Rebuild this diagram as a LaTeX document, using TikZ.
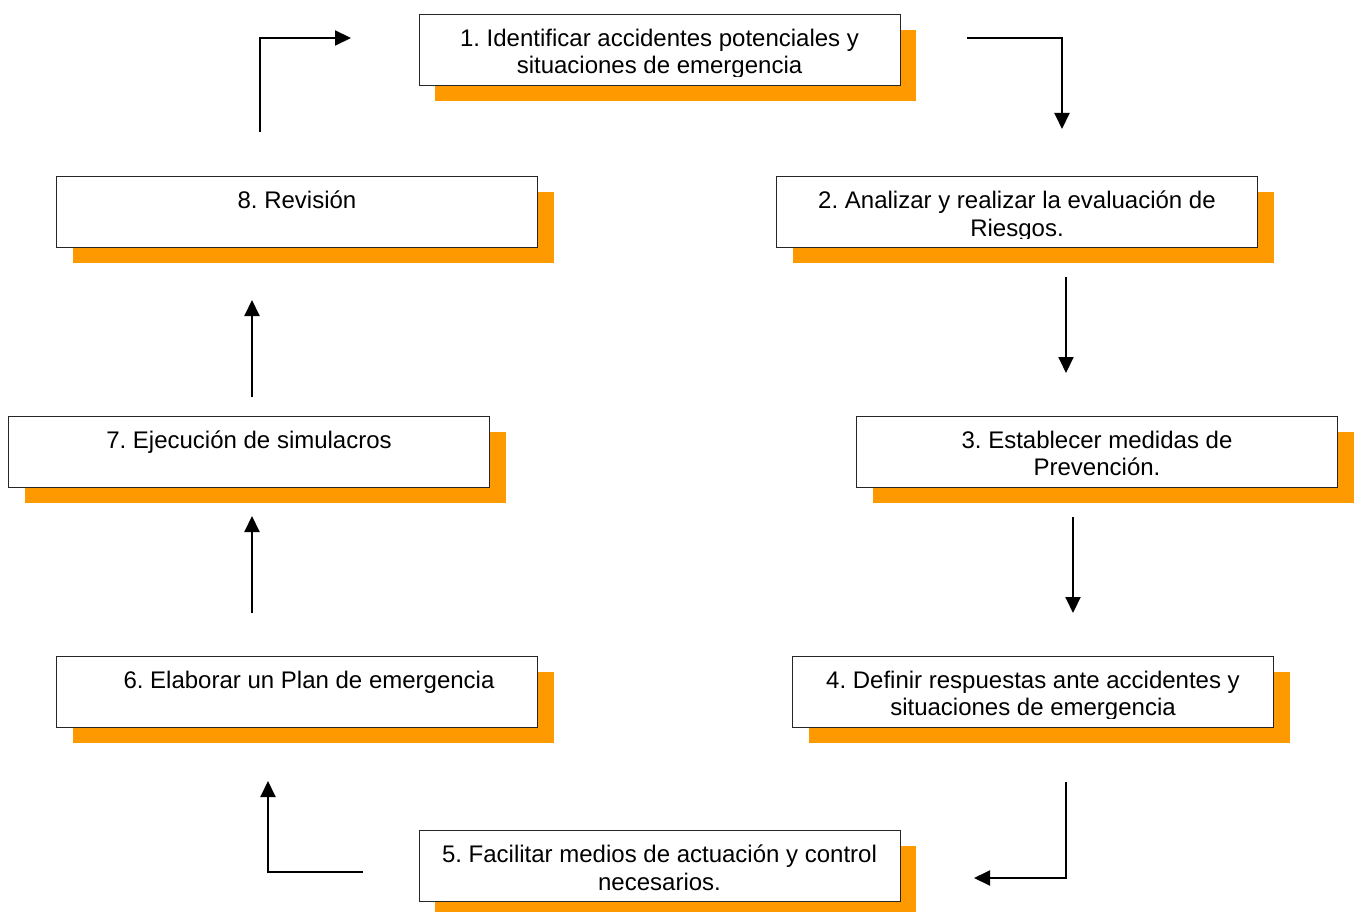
\documentclass[tikz,border=0pt]{standalone}
\usepackage{fontspec}
\setmainfont{Liberation Sans}
\usetikzlibrary{arrows.meta,shadows,calc}
\definecolor{shadoworange}{HTML}{FF9900}
\begin{document}
\frenchspacing
\begin{tikzpicture}[x=1pt,y=-1pt,
  stepbox/.style={draw=black!85, line width=0.8pt, fill=white,
    minimum width=481pt, minimum height=71pt, inner sep=0pt,
    general shadow={fill=shadoworange, shadow xshift=16pt, shadow yshift=-16pt}},
  steptext/.style={anchor=north, inner sep=0pt, align=center,
    font=\fontsize{24}{27.3}\selectfont},
  flow/.style={line width=2pt, -{Triangle[length=16pt,width=15pt]}}]
\useasboundingbox (0,0) rectangle (1354,912);

% process steps
\node[stepbox] (b1) at (659.5,49.5) {};
\node[stepbox] (b2) at (1017,211.5) {};
\node[stepbox] (b3) at (1097,451.5) {};
\node[stepbox] (b4) at (1033,691.5) {};
\node[stepbox] (b5) at (659.5,865.5) {};
\node[stepbox] (b6) at (297,691.5) {};
\node[stepbox] (b7) at (249,451.5) {};
\node[stepbox] (b8) at (297,211.5) {};

% step labels (text frames clip the descenders of the second line)
\begin{scope}
  \clip ($(b1.north west)+(1,1)$) rectangle ($(b1.north east)+(-1,62.5)$);
  \node[steptext] (t1) at ($(b1.north)+(0,15.5)$) {1. Identificar accidentes potenciales y\\situaciones de emergencia};
\end{scope}
\begin{scope}
  \clip ($(b2.north west)+(1,1)$) rectangle ($(b2.north east)+(-1,62.5)$);
  \node[steptext] (t2) at ($(b2.north)+(0,15.5)$) {2. Analizar y realizar la evaluación de\\Riesgos.};
\end{scope}
\node[steptext] (t3) at ($(b3.north)+(0,15.5)$) {3. Establecer medidas de\\Prevención.};
\begin{scope}
  \clip ($(b4.north west)+(1,1)$) rectangle ($(b4.north east)+(-1,62.5)$);
  \node[steptext] (t4) at ($(b4.north)+(0,15.5)$) {4. Definir respuestas ante accidentes y\\situaciones de emergencia};
\end{scope}
\node[steptext] (t5) at ($(b5.north)+(0,15.5)$) {5. Facilitar medios de actuación y control\\necesarios.};
\node[steptext] (t6) at ($(b6.north)+(12,15.5)$) {6. Elaborar un Plan de emergencia};
\node[steptext] (t7) at ($(b7.north)+(0,15.5)$) {7. Ejecución de simulacros};
\node[steptext] (t8) at ($(b8.north)+(0,15.5)$) {8. Revisión};

% connector end points
\coordinate (a81s) at (260,132);  \coordinate (a81e) at (351,38);
\coordinate (a12s) at (967,38);   \coordinate (a12e) at (1062,129);
\coordinate (a23s) at (1066,277); \coordinate (a23e) at (1066,373);
\coordinate (a34s) at (1073,517); \coordinate (a34e) at (1073,613);
\coordinate (a45s) at (1066,782); \coordinate (a45e) at (974,878);
\coordinate (a56s) at (363,872);  \coordinate (a56e) at (268,781);
\coordinate (a67s) at (252,613);  \coordinate (a67e) at (252,516);
\coordinate (a78s) at (252,397);  \coordinate (a78e) at (252,300);

% cycle arrows
\draw[flow] (a81s) |- (a81e);
\draw[flow] (a12s) -| (a12e);
\draw[flow] (a23s) -- (a23e);
\draw[flow] (a34s) -- (a34e);
\draw[flow] (a45s) |- (a45e);
\draw[flow] (a56s) -| (a56e);
\draw[flow] (a67s) -- (a67e);
\draw[flow] (a78s) -- (a78e);
\end{tikzpicture}
\end{document}
